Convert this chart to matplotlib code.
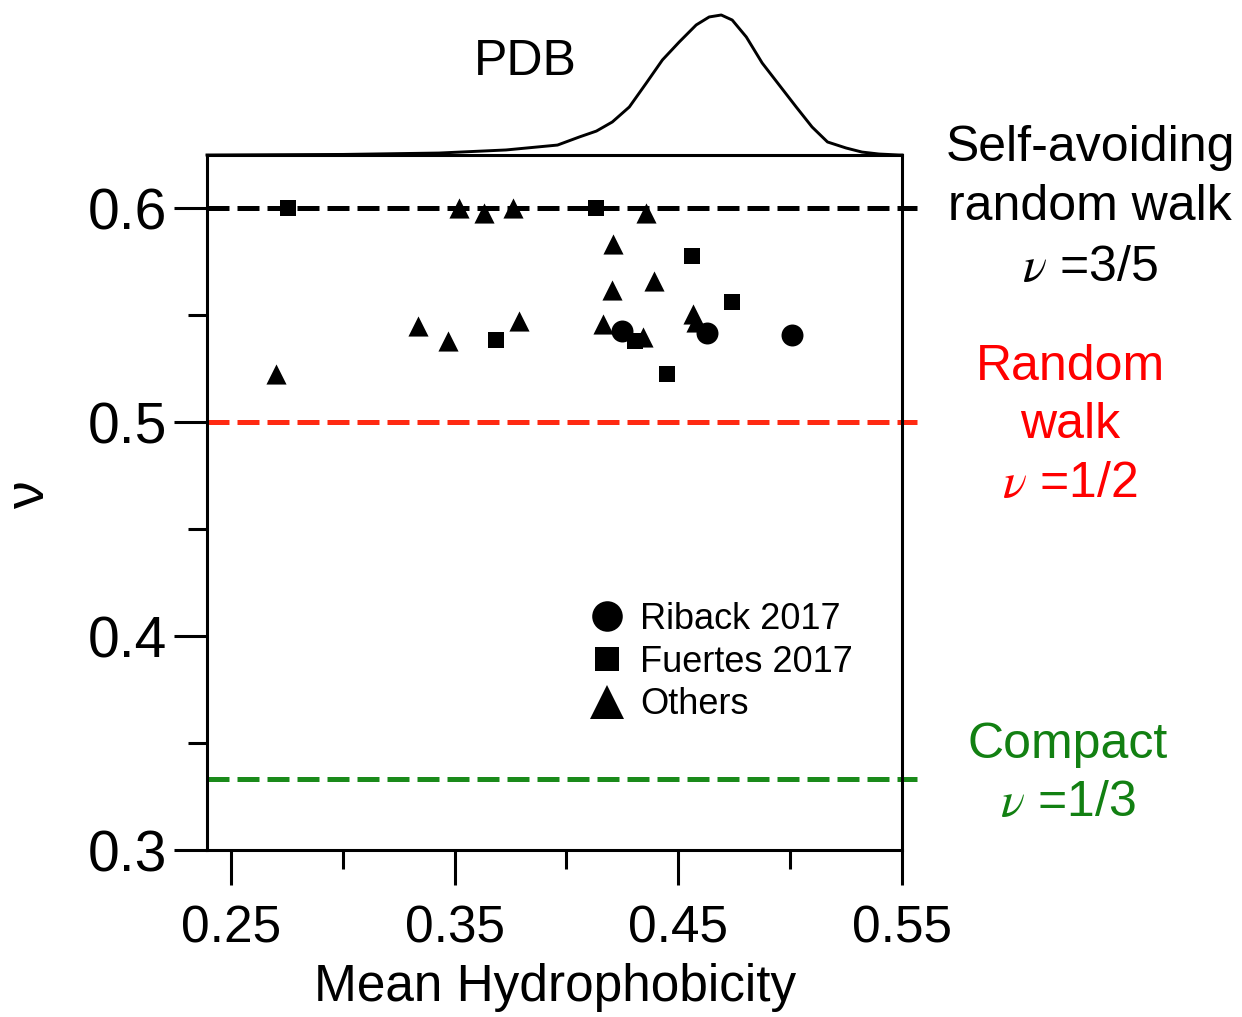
import numpy as np
import matplotlib.pyplot as plt
from matplotlib.lines import Line2D

plt.rcParams['font.family'] = ['Liberation Sans', 'DejaVu Sans']
plt.rcParams['mathtext.fontset'] = 'stix'

# Riback 2017 (circles)
riback_x = [0.425, 0.463, 0.501]
riback_y = [0.5425, 0.5416, 0.5407]

# Fuertes 2017 (squares)
fuertes_x = [0.2754, 0.4134, 0.3687, 0.4563, 0.4741, 0.4308, 0.4450]
fuertes_y = [0.600, 0.600, 0.5383, 0.5776, 0.5561, 0.5379, 0.5224]

# Others (triangles)
others_x = [0.2700, 0.3335, 0.3470, 0.3518, 0.3630, 0.3760, 0.3790, 0.4165,
            0.4205, 0.4210, 0.4340, 0.4357, 0.4393, 0.4567, 0.4580]
others_y = [0.5224, 0.5449, 0.5378, 0.600, 0.5977, 0.600, 0.5472, 0.5458,
            0.5621, 0.5836, 0.5397, 0.5977, 0.5659, 0.5505, 0.5470]

# PDB hydrophobicity distribution, scaled to its peak
pdb_x = [0.2393, 0.300, 0.343, 0.373, 0.396, 0.4058, 0.4134, 0.4205, 0.4281,
         0.4357, 0.4429, 0.4504, 0.4580, 0.4638, 0.4692, 0.4741, 0.4804, 0.4875,
         0.4951, 0.5027, 0.5098, 0.5167, 0.5250, 0.5321, 0.5397, 0.5487, 0.5500]
pdb_d = [0.0, 0.004, 0.014, 0.036, 0.071, 0.129, 0.171, 0.236, 0.343,
         0.514, 0.679, 0.807, 0.929, 0.986, 1.0, 0.964, 0.843, 0.657,
         0.5, 0.343, 0.2, 0.093, 0.05, 0.021, 0.007, 0.0, 0.0]

ref_nu = [3 / 5, 1 / 2, 1 / 3]
ref_colors = ['black', '#ff2a12', '#1a8a1a']

W, H = 1242, 1017
fig = plt.figure(figsize=(W / 100, H / 100), dpi=100)
ax = fig.add_axes([207 / W, 1 - 850 / H, 695 / W, 695 / H])

for nu, c in zip(ref_nu, ref_colors):
    ax.axhline(nu, 0, 1.022, color=c, lw=3.6, dashes=(4.4, 1.6), clip_on=False, zorder=2)

ax.scatter(riback_x, riback_y, marker='o', s=250, color='black', zorder=3, linewidths=0)
ax.scatter(fuertes_x, fuertes_y, marker='s', s=132, color='black', zorder=3, linewidths=0)
ax.scatter(others_x, others_y, marker='^', s=210, color='black', zorder=3, linewidths=0)

ax.set_xlim(0.2393, 0.55)
ax.set_ylim(0.3, 0.625)
ax.set_xticks([0.25, 0.35, 0.45, 0.55])
ax.set_xticklabels(['0.25', '0.35', '0.45', '0.55'])
ax.set_xticks([0.30, 0.40, 0.50], minor=True)
ax.set_yticks([0.3, 0.4, 0.5, 0.6])
ax.set_yticklabels(['0.3', '0.4', '0.5', '0.6'])
ax.set_yticks([0.35, 0.45, 0.55], minor=True)
for s in ax.spines.values():
    s.set_linewidth(2.2)
ax.tick_params(which='both', direction='out', width=2.2, top=False, right=False)
ax.tick_params(axis='y', which='major', length=24, pad=5, labelsize=41)
ax.tick_params(axis='y', which='minor', length=14)
ax.tick_params(axis='x', which='major', length=25, pad=14, labelsize=37)
ax.tick_params(axis='x', which='minor', length=14)

fig.text(555 / W, 1 - 1001 / H, 'Mean Hydrophobicity', ha='center', va='baseline',
         fontsize=37)
fig.text(30 / W, 1 - 495 / H, 'ν', rotation=90, ha='center', va='center', fontsize=40)

# PDB curve on top
top = fig.add_axes([207 / W, 1 - 155 / H, 695 / W, 140 / H])
top.plot(pdb_x, pdb_d, color='black', lw=2.1, solid_joinstyle='round', clip_on=False)
top.set_xlim(ax.get_xlim())
top.set_ylim(0, 1)
top.axis('off')
fig.text(525 / W, 1 - 62 / H, 'PDB', ha='center', va='center', fontsize=36)

# annotations on the right
fs = 36
fig.text(1090 / W, 1 - 148 / H, 'Self-avoiding', ha='center', va='center', fontsize=fs)
fig.text(1090 / W, 1 - 207 / H, 'random walk', ha='center', va='center', fontsize=fs)
fig.text(1090 / W, 1 - 268 / H, r'$\nu$ =3/5', ha='center', va='center', fontsize=fs)
fig.text(1070 / W, 1 - 367 / H, 'Random', ha='center', va='center', fontsize=fs, color='red')
fig.text(1070 / W, 1 - 425 / H, 'walk', ha='center', va='center', fontsize=fs, color='red')
fig.text(1070 / W, 1 - 484 / H, r'$\nu$ =1/2', ha='center', va='center', fontsize=fs, color='red')
fig.text(1068 / W, 1 - 745 / H, 'Compact', ha='center', va='center', fontsize=fs, color='#128012')
fig.text(1068 / W, 1 - 803 / H, r'$\nu$ =1/3', ha='center', va='center', fontsize=fs, color='#128012')

handles = [
    Line2D([], [], ls='none', marker='o', ms=22, color='black', mew=0),
    Line2D([], [], ls='none', marker='s', ms=17, color='black', mew=0),
    Line2D([], [], ls='none', marker='^', ms=24, color='black', mew=0),
]
fig.legend(handles, ['Riback 2017', 'Fuertes 2017', 'Others'], loc='center left',
           bbox_to_anchor=(589 / W, 1 - 662 / H), frameon=False, fontsize=26,
           handlelength=1.0, handletextpad=0.42, labelspacing=0.22, borderpad=0,
           borderaxespad=0)

fig.savefig('out.png', dpi=100)
